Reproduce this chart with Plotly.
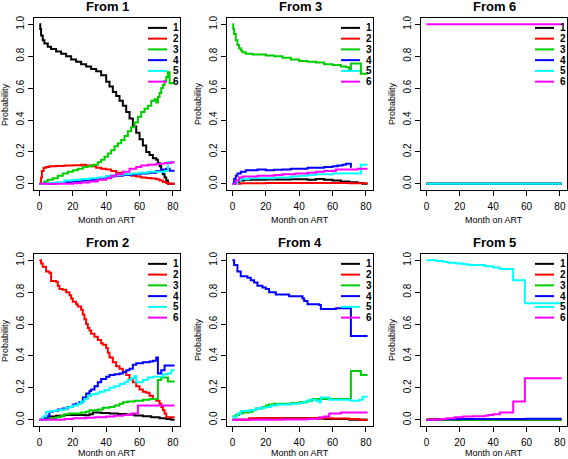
import plotly.graph_objects as go

# ---------------- data: (month, probability) change points ----------------
states = ["1", "2", "3", "4", "5", "6"]
colors = ["#000000", "#FF0000", "#00CD00", "#0000FF", "#00FFFF", "#FF00FF"]
x_ticks = [0, 20, 40, 60, 80]
y_ticks = [0.0, 0.2, 0.4, 0.6, 0.8, 1.0]

from1_to1 = [(0,1.0),(0.5,0.97),(1,0.93),(2,0.9),(3,0.88),(5,0.86),(7,0.845),(10,0.83),(13,0.815),(16,0.80),(19,0.78),(22,0.765),(25,0.75),(28,0.735),(31,0.72),(34,0.705),(37,0.68),(40,0.64),(42,0.61),(44,0.575),(46,0.55),(48,0.52),(50,0.49),(52,0.45),(54,0.41),(56,0.36),(58,0.32),(60,0.28),(62,0.24),(64,0.20),(66,0.18),(68,0.16),(70,0.15),(71,0.13),(72,0.11),(73,0.08),(74,0.06),(75,0.04),(76,0.02),(77,0.0),(81,0.0)]
from1_to2 = [(0,0.0),(1,0.04),(1.5,0.08),(2.5,0.10),(4,0.105),(6,0.11),(10,0.112),(15,0.115),(20,0.117),(25,0.12),(28,0.115),(31,0.11),(34,0.10),(37,0.095),(40,0.09),(43,0.08),(46,0.07),(49,0.063),(52,0.055),(55,0.05),(58,0.045),(61,0.04),(64,0.037),(67,0.033),(70,0.028),(72,0.02),(74,0.012),(76,0.005),(78,0.0),(81,0.0)]
from1_to3 = [(0,0.0),(3,0.015),(5,0.025),(8,0.035),(11,0.05),(14,0.065),(17,0.075),(20,0.085),(23,0.095),(26,0.105),(29,0.11),(32,0.12),(35,0.135),(37,0.15),(39,0.17),(41,0.19),(43,0.21),(45,0.235),(47,0.255),(49,0.275),(51,0.30),(53,0.33),(55,0.355),(57,0.385),(59,0.42),(61,0.45),(63,0.47),(65,0.49),(67,0.52),(69,0.53),(70,0.51),(71,0.545),(72,0.57),(73,0.60),(74,0.62),(75,0.645),(76,0.67),(77,0.70),(78,0.63),(81,0.63)]
from1_to4 = [(0,0.0),(10,0.005),(15,0.01),(20,0.015),(25,0.02),(30,0.025),(35,0.035),(40,0.045),(45,0.05),(50,0.055),(55,0.06),(60,0.065),(65,0.07),(70,0.08),(73,0.09),(76,0.095),(78,0.082),(81,0.082)]
from1_to5 = [(0,0.0),(5,0.005),(10,0.01),(15,0.02),(20,0.025),(25,0.03),(30,0.035),(35,0.04),(40,0.05),(45,0.055),(50,0.06),(55,0.065),(60,0.07),(65,0.075),(75,0.08),(77,0.135),(81,0.135)]
from1_to6 = [(0,0.0),(20,0.003),(25,0.008),(30,0.015),(35,0.025),(40,0.035),(43,0.05),(46,0.06),(50,0.075),(54,0.095),(58,0.105),(61,0.115),(65,0.12),(70,0.125),(75,0.13),(79,0.135),(81,0.135)]

from3_to1 = [(0,0.0),(2,0.01),(4,0.02),(7,0.025),(20,0.027),(35,0.028),(45,0.025),(50,0.03),(55,0.025),(60,0.02),(65,0.015),(70,0.01),(75,0.005),(78,0.0),(81,0.0)]
from3_to2 = [(0,0.0),(5,0.003),(20,0.005),(60,0.005),(70,0.003),(81,0.003)]
from3_to3 = [(0,1.0),(0.5,0.97),(1,0.94),(2,0.9),(3,0.87),(4,0.85),(5,0.835),(6,0.825),(8,0.815),(12,0.81),(20,0.805),(25,0.80),(30,0.79),(35,0.78),(40,0.77),(45,0.765),(50,0.76),(55,0.75),(60,0.745),(65,0.735),(68,0.73),(70,0.72),(71,0.755),(77,0.69),(81,0.69)]
from3_to4 = [(0,0.0),(1,0.03),(2,0.05),(3,0.065),(5,0.075),(8,0.085),(15,0.09),(20,0.085),(25,0.088),(30,0.09),(35,0.095),(45,0.10),(55,0.105),(60,0.11),(63,0.115),(66,0.12),(68,0.125),(71,0.10)]
from3_to5 = [(0,0.0),(3,0.02),(5,0.03),(10,0.035),(25,0.04),(35,0.045),(40,0.05),(45,0.055),(50,0.06),(60,0.065),(77,0.12),(81,0.12)]
from3_to6 = [(0,0.0),(2,0.02),(4,0.04),(6,0.045),(15,0.05),(25,0.055),(30,0.06),(38,0.065),(45,0.07),(50,0.075),(55,0.08),(62,0.09),(75,0.095),(81,0.095)]

from6_to1 = [(0,0.0),(81,0.0)]
from6_to2 = [(0,0.0),(81,0.0)]
from6_to3 = [(0,0.0),(81,0.0)]
from6_to4 = [(0,0.0),(81,0.0)]
from6_to5 = [(0,0.0),(81,0.0)]
from6_to6 = [(0,1.0),(81,1.0)]

from2_to1 = [(0,0.0),(3,0.01),(5,0.02),(10,0.025),(15,0.03),(22,0.03),(27,0.028),(30,0.035),(32,0.045),(37,0.042),(42,0.04),(47,0.036),(52,0.033),(57,0.027),(62,0.022),(67,0.015),(72,0.01),(76,0.005),(79,0.0),(81,0.0)]
from2_to2 = [(0,1.0),(1,0.98),(2,0.96),(4,0.93),(6,0.92),(7,0.87),(10,0.865),(11,0.84),(12,0.82),(14,0.815),(16,0.80),(18,0.78),(19,0.76),(20,0.74),(22,0.725),(23,0.71),(25,0.69),(26,0.66),(27,0.63),(28,0.60),(29,0.575),(30,0.56),(31,0.54),(33,0.52),(35,0.50),(37,0.48),(38,0.47),(40,0.45),(41,0.42),(42,0.39),(44,0.36),(46,0.335),(48,0.32),(50,0.30),(52,0.28),(54,0.255),(56,0.235),(58,0.21),(60,0.19),(62,0.175),(64,0.17),(66,0.15),(68,0.13),(70,0.12),(72,0.10),(73,0.08),(74,0.06),(75,0.04),(76,0.015),(81,0.015)]
from2_to3 = [(0,0.0),(4,0.005),(6,0.01),(10,0.015),(13,0.025),(15,0.035),(18,0.04),(25,0.045),(28,0.05),(30,0.06),(35,0.065),(38,0.075),(42,0.08),(45,0.09),(48,0.10),(50,0.11),(53,0.115),(57,0.12),(62,0.125),(66,0.13),(71,0.25),(73,0.265),(77,0.24),(81,0.24)]
from2_to4 = [(0,0.0),(2,0.01),(4,0.02),(6,0.05),(8,0.055),(11,0.065),(14,0.07),(17,0.08),(20,0.095),(22,0.10),(24,0.11),(26,0.14),(28,0.165),(30,0.18),(31,0.19),(33,0.21),(35,0.235),(37,0.255),(40,0.27),(42,0.28),(45,0.285),(48,0.29),(50,0.30),(52,0.31),(54,0.32),(56,0.345),(58,0.355),(62,0.36),(66,0.365),(68,0.37),(70,0.39),(71,0.29),(73,0.31),(75,0.34),(81,0.34)]
from2_to5 = [(0,0.0),(2,0.02),(4,0.05),(7,0.055),(10,0.06),(13,0.065),(16,0.075),(18,0.08),(20,0.09),(23,0.10),(25,0.115),(27,0.13),(29,0.15),(31,0.16),(34,0.165),(36,0.175),(39,0.185),(42,0.20),(45,0.21),(48,0.225),(51,0.235),(53,0.25),(55,0.26),(57,0.275),(58,0.235),(62,0.25),(65,0.265),(68,0.27),(74,0.285),(77,0.29),(79,0.31),(81,0.31)]
from2_to6 = [(0,0.0),(15,0.005),(20,0.01),(28,0.012),(33,0.015),(40,0.02),(45,0.025),(50,0.03),(55,0.04),(59,0.09),(81,0.09)]

from4_to1 = [(0,0.0),(10,0.005),(15,0.01),(45,0.01),(52,0.008),(55,0.005),(66,0.005),(70,0.0),(81,0.0)]
from4_to2 = [(0,0.0),(10,0.01),(55,0.01),(60,0.008),(70,0.005),(76,0.0),(81,0.0)]
from4_to3 = [(0,0.02),(2,0.03),(4,0.04),(6,0.045),(10,0.05),(12,0.06),(14,0.07),(18,0.08),(20,0.09),(22,0.095),(25,0.10),(35,0.105),(40,0.11),(45,0.12),(48,0.13),(71,0.305),(77,0.28),(81,0.28)]
from4_to4 = [(0,1.0),(1,0.97),(3,0.93),(5,0.90),(9,0.89),(11,0.875),(13,0.86),(15,0.84),(18,0.83),(20,0.82),(22,0.80),(26,0.785),(34,0.775),(42,0.76),(43,0.745),(45,0.725),(52,0.72),(53,0.695),(62,0.70),(71,0.525),(81,0.525)]
from4_to5 = [(0,0.0),(1,0.02),(3,0.04),(5,0.055),(10,0.06),(14,0.07),(17,0.075),(20,0.08),(23,0.09),(27,0.095),(35,0.10),(40,0.105),(43,0.115),(46,0.125),(50,0.12),(52,0.11),(53,0.14),(58,0.125),(71,0.12),(76,0.125),(78,0.145),(81,0.145)]
from4_to6 = [(0,0.0),(30,0.002),(45,0.005),(52,0.015),(55,0.02),(58,0.04),(65,0.045),(81,0.045)]

from5_to1 = [(0,0.0),(81,0.0)]
from5_to2 = [(0,0.0),(2,0.005),(10,0.002),(81,0.002)]
from5_to3 = [(0,0.0),(81,0.0)]
from5_to4 = [(0,0.0),(8,0.003),(20,0.005),(60,0.007),(81,0.007)]
from5_to5 = [(0,1.0),(6,0.995),(10,0.99),(13,0.985),(18,0.98),(22,0.975),(25,0.97),(35,0.962),(40,0.955),(44,0.945),(52,0.875),(59,0.73),(81,0.73)]
from5_to6 = [(0,0.0),(8,0.005),(12,0.01),(17,0.015),(22,0.02),(28,0.022),(35,0.025),(37,0.03),(40,0.035),(44,0.045),(52,0.115),(59,0.26),(81,0.26)]

panel_titles = ["From 1", "From 3", "From 6", "From 2", "From 4", "From 5"]
panel_series = [
    [from1_to1, from1_to2, from1_to3, from1_to4, from1_to5, from1_to6],
    [from3_to1, from3_to2, from3_to3, from3_to4, from3_to5, from3_to6],
    [from6_to1, from6_to2, from6_to3, from6_to4, from6_to5, from6_to6],
    [from2_to1, from2_to2, from2_to3, from2_to4, from2_to5, from2_to6],
    [from4_to1, from4_to2, from4_to3, from4_to4, from4_to5, from4_to6],
    [from5_to1, from5_to2, from5_to3, from5_to4, from5_to5, from5_to6],
]

# ---------------- layout geometry (pixels) ----------------
W, H = 568, 459
col_left = [34, 227, 421]
row_top = [16, 253]
box_w, box_h = 146, 173
FONT = "Liberation Sans, Arial, Helvetica, sans-serif"

fig = go.Figure()
layout = dict(
    width=W, height=H, margin=dict(l=0, r=0, t=0, b=0),
    paper_bgcolor="white", plot_bgcolor="white", showlegend=False,
    font=dict(family=FONT, size=10, color="black"),
)
annotations, shapes = [], []

for k in range(6):
    r, c = divmod(k, 3)
    idx = "" if k == 0 else str(k + 1)
    left, top = col_left[c], row_top[r]
    xd = [left / W, (left + box_w) / W]
    yd = [1 - (top + box_h) / H, 1 - top / H]
    axstyle = dict(showgrid=False, zeroline=False, showline=True, mirror=True,
                   linecolor="black", linewidth=1, ticks="outside", ticklen=5,
                   tickwidth=1, tickcolor="black", tickfont=dict(size=10, family=FONT))
    layout["xaxis" + idx] = dict(domain=xd, anchor="y" + idx, range=[-3.24, 84.24],
                                 tickvals=x_ticks, ticktext=[str(v) for v in x_ticks],
                                 ticklabelstandoff=2, **axstyle)
    layout["yaxis" + idx] = dict(domain=yd, anchor="x" + idx, range=[-0.04, 1.04],
                                 tickvals=y_ticks, ticktext=[f"{v:.1f}" for v in y_ticks],
                                 tickangle=-90, **axstyle)
    for s, series in enumerate(panel_series[k]):
        fig.add_trace(go.Scatter(
            x=[p[0] for p in series], y=[p[1] for p in series],
            mode="lines", line=dict(color=colors[s], width=2, shape="hv"),
            name=states[s], xaxis="x" + idx, yaxis="y" + idx,
        ))
    xr, yr = f"x{idx} domain", f"y{idx} domain"
    annotations.append(dict(text=f"<b>{panel_titles[k]}</b>", xref=xr, yref=yr,
                            x=0.5, y=1 + 11.5 / box_h, showarrow=False,
                            xanchor="center", yanchor="middle", font=dict(size=13)))
    annotations.append(dict(text="Month on ART", xref=xr, yref=yr, x=0.5,
                            y=-(30 if r == 0 else 27) / box_h, showarrow=False,
                            xanchor="center", yanchor="middle", font=dict(size=9)))
    annotations.append(dict(text="Probability", xref=xr, yref=yr, x=-29 / box_w,
                            y=0.5, showarrow=False, textangle=-90, xanchor="center",
                            yanchor="middle", font=dict(size=9)))
    for s, name in enumerate(states):
        py = 10 + 10.8 * s
        yy = 1 - py / box_h
        shapes.append(dict(type="line", xref=xr, yref=yr,
                           x0=1 - 32 / box_w, x1=1 - 13 / box_w, y0=yy, y1=yy,
                           line=dict(color=colors[s], width=2)))
        annotations.append(dict(text=f"<b>{name}</b>", xref=xr, yref=yr,
                                x=1 - 9 / box_w, y=yy, showarrow=False,
                                xanchor="left", yanchor="middle", font=dict(size=10)))

layout["annotations"] = annotations
layout["shapes"] = shapes
fig.update_layout(**layout)
fig.write_html("out.html", config={"displayModeBar": False},
               post_script="document.body.style.margin='0';document.body.style.overflow='hidden';")
